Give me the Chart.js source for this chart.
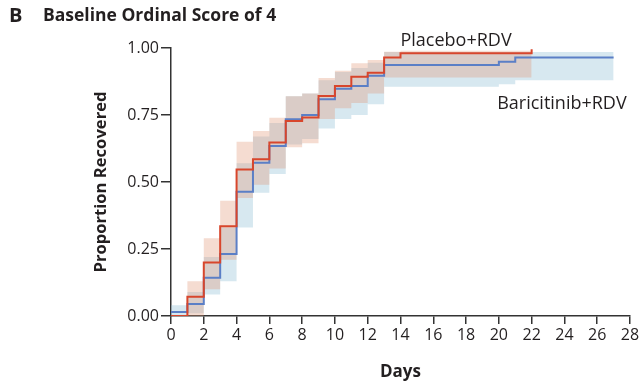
<!DOCTYPE html>
<html>
<head>
<meta charset="utf-8">
<script src="https://cdn.jsdelivr.net/npm/chart.js@4/dist/chart.umd.min.js"></script>
<style>
  html, body { margin: 0; padding: 0; background: #fff; }
  #wrap { width: 642px; height: 384px; position: relative; }
</style>
</head>
<body>
<div id="wrap"><canvas id="kmChart" width="642" height="384"></canvas></div>
<script>
// Dados (Kaplan-Meier, escore ordinal basal 4)
const xTicks = [0, 2, 4, 6, 8, 10, 12, 14, 16, 18, 20, 22, 24, 26, 28];
const yTicks = [0, 0.25, 0.5, 0.75, 1.0];

const placeboDays = [0, 1, 2, 3, 4, 5, 6, 7, 8, 9, 10, 11, 12, 13, 14, 15, 16, 17, 18, 19, 20, 21, 22];
const placeboSurv = [0, 0.072, 0.20, 0.335, 0.547, 0.585, 0.647, 0.728, 0.741, 0.821, 0.858, 0.893, 0.908, 0.965,
                     0.98, 0.98, 0.98, 0.98, 0.98, 0.98, 0.98, 0.98, 0.995];
const placeboUpper = [0, 0.13, 0.29, 0.43, 0.65, 0.69, 0.74, 0.82, 0.83, 0.888, 0.915, 0.943, 0.955, 0.986,
                      0.99, 0.99, 0.99, 0.99, 0.99, 0.99, 0.99, 0.99, 0.99];
const placeboLower = [0, 0, 0.10, 0.21, 0.44, 0.49, 0.55, 0.63, 0.645, 0.735, 0.775, 0.795, 0.83, 0.89,
                      0.89, 0.89, 0.89, 0.89, 0.89, 0.89, 0.89, 0.89, 0.89];

const baricitinibDays = [0, 1, 2, 3, 4, 5, 6, 7, 8, 9, 10, 11, 12, 13, 14, 15, 16, 17, 18, 19, 20, 21, 22, 23, 24, 25, 26, 27];
const baricitinibSurv = [0.015, 0.045, 0.143, 0.231, 0.464, 0.572, 0.634, 0.734, 0.75, 0.809, 0.848, 0.858, 0.896, 0.937,
                         0.937, 0.937, 0.937, 0.937, 0.937, 0.937, 0.949, 0.965, 0.965, 0.965, 0.965, 0.965, 0.965, 0.965];
const baricitinibUpper = [0.04, 0.09, 0.22, 0.33, 0.57, 0.67, 0.72, 0.82, 0.83, 0.88, 0.91, 0.925, 0.945, 0.985,
                          0.985, 0.985, 0.985, 0.985, 0.985, 0.985, 0.985, 0.985, 0.985, 0.985, 0.985, 0.985, 0.985, 0.985];
const baricitinibLower = [0, 0.01, 0.08, 0.13, 0.33, 0.46, 0.53, 0.64, 0.66, 0.70, 0.735, 0.75, 0.79, 0.855,
                          0.855, 0.855, 0.855, 0.855, 0.855, 0.855, 0.865, 0.88, 0.88, 0.88, 0.88, 0.88, 0.88, 0.88];

const placeboLabel = 'Placebo+RDV';
const baricitinibLabel = 'Baricitinib+RDV';

const redLine = '#d8462c';
const blueLine = '#5b7fc6';
const redBand = 'rgba(225, 150, 115, 0.33)';
const blueBand = 'rgba(150, 195, 215, 0.38)';
const axisColor = '#333333';
const textColor = '#231f20';

function pts(days, vals) {
    return days.map((d, i) => ({ x: d, y: vals[i] }));
}

// Título e rótulos das curvas
const annotations = {
    id: 'annotations',
    afterDraw(chart) {
        const ctx = chart.ctx;
        const x = chart.scales.x, y = chart.scales.y;
        ctx.save();
        ctx.fillStyle = textColor;
        ctx.textBaseline = 'middle';
        ctx.textAlign = 'left';
        ctx.font = 'bold 20px "Open Sans"';
        ctx.fillText('B', 9, 16);
        ctx.font = 'bold 17.5px "Open Sans"';
        ctx.fillText('Baseline Ordinal Score of 4', 43, 16);
        ctx.font = '18px "Open Sans"';
        ctx.fillText(placeboLabel, x.getPixelForValue(14), y.getPixelForValue(1.028));
        ctx.fillText(baricitinibLabel, x.getPixelForValue(19.9), y.getPixelForValue(0.793));
        ctx.restore();
    }
};

const config = {
    type: 'line',
    data: {
        datasets: [
            { data: pts(placeboDays, placeboSurv), borderColor: redLine, borderWidth: 2, stepped: 'before', pointRadius: 0, fill: false, order: 0 },
            { data: pts(baricitinibDays, baricitinibSurv), borderColor: blueLine, borderWidth: 2, stepped: 'before', pointRadius: 0, fill: false, order: 1 },
            { data: pts(placeboDays, placeboUpper), borderWidth: 0, borderColor: 'rgba(0,0,0,0)', backgroundColor: redBand, stepped: 'before', pointRadius: 0, fill: '+1', order: 2 },
            { data: pts(placeboDays, placeboLower), borderWidth: 0, borderColor: 'rgba(0,0,0,0)', stepped: 'before', pointRadius: 0, fill: false, order: 2 },
            { data: pts(baricitinibDays, baricitinibUpper), borderWidth: 0, borderColor: 'rgba(0,0,0,0)', backgroundColor: blueBand, stepped: 'before', pointRadius: 0, fill: '+1', order: 3 },
            { data: pts(baricitinibDays, baricitinibLower), borderWidth: 0, borderColor: 'rgba(0,0,0,0)', stepped: 'before', pointRadius: 0, fill: false, order: 3 }
        ]
    },
    options: {
        responsive: false,
        animation: false,
        layout: { padding: { left: 91, right: 12, top: 48, bottom: 0 } },
        plugins: {
            legend: { display: false },
            tooltip: { enabled: false },
            filler: { drawTime: 'beforeDatasetsDraw' }
        },
        scales: {
            x: {
                type: 'linear',
                min: 0,
                max: 28,
                afterBuildTicks: (s) => { s.ticks = xTicks.map(v => ({ value: v })); },
                afterFit: (s) => { s.height = 68; },
                ticks: { color: textColor, font: { family: 'Open Sans', size: 16 }, padding: 2, maxRotation: 0, autoSkip: false },
                grid: { drawOnChartArea: false, drawTicks: true, tickLength: 8, color: axisColor, lineWidth: 1.5 },
                border: { display: true, color: axisColor, width: 1.5 },
                title: { display: true, text: 'Days', color: textColor, font: { family: 'Open Sans', size: 17, weight: 'bold' }, padding: { top: 0, bottom: 2 } }
            },
            y: {
                type: 'linear',
                min: 0,
                max: 1,
                afterBuildTicks: (s) => { s.ticks = yTicks.map(v => ({ value: v })); },
                afterFit: (s) => { s.width = 80; },
                ticks: { color: textColor, font: { family: 'Open Sans', size: 16 }, padding: 2, callback: (v) => v.toFixed(2) },
                grid: { drawOnChartArea: false, drawTicks: true, tickLength: 10, color: axisColor, lineWidth: 1.5 },
                border: { display: true, color: axisColor, width: 1.5 },
                title: { display: true, text: 'Proportion Recovered', color: textColor, font: { family: 'Open Sans', size: 16.6, weight: 'bold' }, padding: 0 }
            }
        }
    },
    plugins: [annotations]
};

new Chart(document.getElementById('kmChart'), config);
</script>
</body>
</html>
